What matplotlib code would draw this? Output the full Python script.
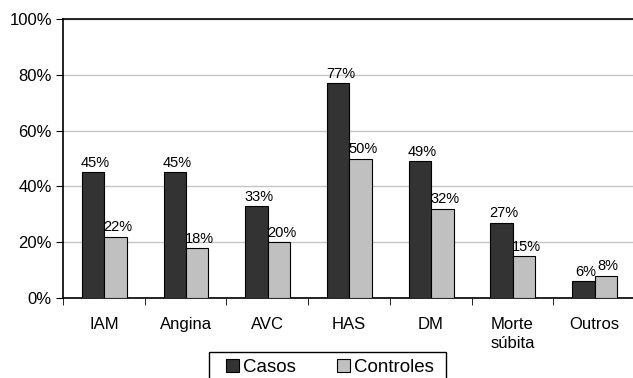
import matplotlib
matplotlib.use("Agg")
import matplotlib.pyplot as plt
from matplotlib.patches import Rectangle
import numpy as np

plt.rcParams['font.family'] = ['Liberation Sans', 'DejaVu Sans']

categories = ["IAM", "Angina", "AVC", "HAS", "DM", "Morte\nsúbita", "Outros"]
casos = [45, 45, 33, 77, 49, 27, 6]
controles = [22, 18, 20, 50, 32, 15, 8]
yticks = [0, 20, 40, 60, 80, 100]

W, H = 633, 378
fig = plt.figure(figsize=(W / 100, H / 100), dpi=100)
left, right, top, bottom = 63, 635, 19, 298
ax = fig.add_axes([left / W, 1 - bottom / H, (right - left) / W, (bottom - top) / H])

x = np.arange(len(categories))
bw = 0.275
off = 0.005
b1 = ax.bar(x - bw / 2 + off, casos, bw, color="#333333", edgecolor="black", linewidth=0.8, label="Casos", zorder=3)
b2 = ax.bar(x + bw / 2 + off, controles, bw, color="#c0c0c0", edgecolor="black", linewidth=0.8, label="Controles", zorder=3)

for bars, vals in ((b1, casos), (b2, controles)):
    for rect, v in zip(bars, vals):
        ax.text(rect.get_x() + rect.get_width() / 2 + 0.03, v + 0.8, f"{v}%",
                ha="center", va="bottom", fontsize=10.5)

ax.set_xlim(-0.5, len(categories) - 0.5)
ax.set_ylim(0, 100)
ax.set_yticks(yticks)
ax.set_yticklabels([f"{t}%" for t in yticks], fontsize=12)
ax.yaxis.grid(True, color="#c4c4c4", linewidth=1, zorder=0)
ax.set_axisbelow(True)

ax.set_xticks(x)
ax.set_xticklabels(categories, fontsize=12, linespacing=1.3)
ax.tick_params(axis="x", length=0, pad=14)
ax.set_xticks(np.arange(len(categories) + 1) - 0.5, minor=True)
ax.tick_params(axis="x", which="minor", length=5, color="black")
ax.tick_params(axis="y", length=5, color="black", pad=3)

for s in ["left", "bottom", "top"]:
    ax.spines[s].set_color("black")
    ax.spines[s].set_linewidth(1.2)
ax.spines["right"].set_visible(False)

# Legend box runs past the lower edge of the figure
fig.patches.append(Rectangle((209 / W, -0.05), (446 - 209) / W, 0.05 + 1 - 352 / H,
                             transform=fig.transFigure, facecolor="white",
                             edgecolor="black", linewidth=1.0, zorder=1))
leg = fig.legend(handles=[b1, b2], loc="center", bbox_to_anchor=(330 / W, 1 - 367.5 / H),
                 ncol=2, fontsize=13.5, frameon=False,
                 handlelength=0.7, handleheight=0.7, handletextpad=0.2, columnspacing=2.2,
                 borderpad=0, borderaxespad=0)
leg.set_zorder(2)

fig.savefig("out.png", dpi=100)
